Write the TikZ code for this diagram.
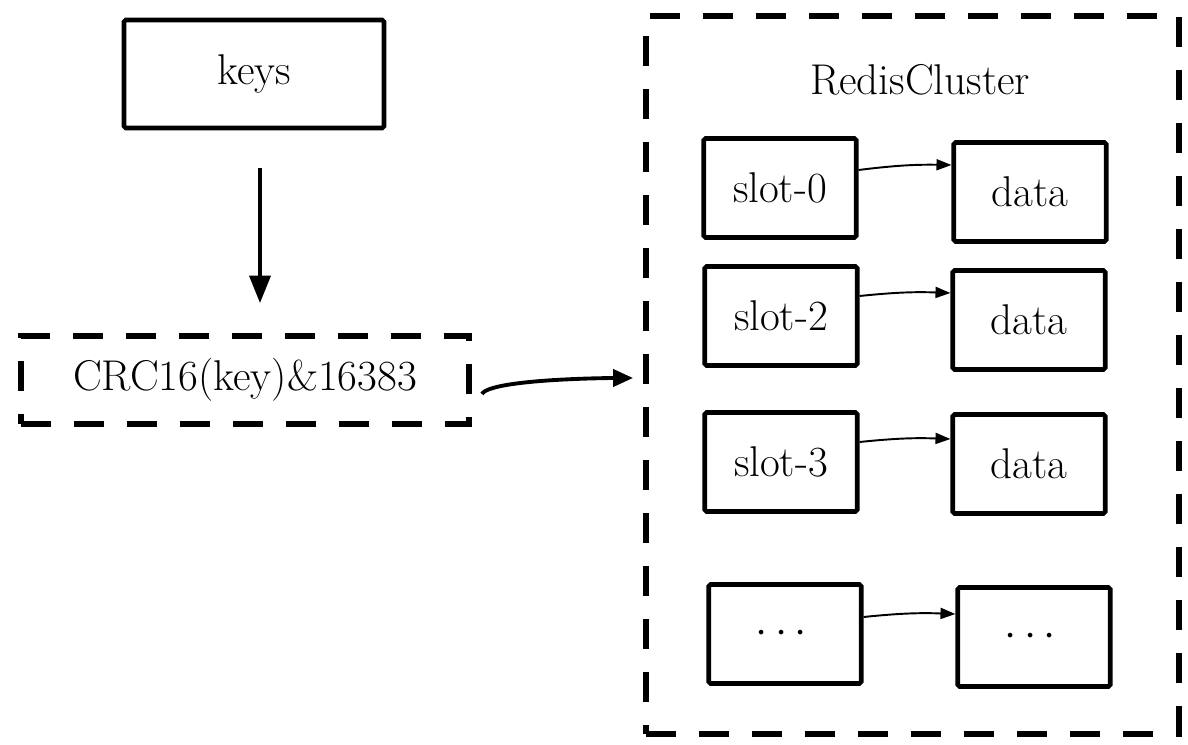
\documentclass[tikz,border=0pt]{standalone}
\usepackage{amsmath,amssymb}
\usetikzlibrary{arrows.meta}

\begin{document}
\begin{tikzpicture}[
  font=\fontsize{24.5}{29}\selectfont,
  box/.style={draw, line width=2.6pt, rounded corners=1pt, minimum width=3.05cm, minimum height=1.98cm, inner sep=0pt},
  dashbox/.style={draw, line width=3.6pt, dash pattern=on 0.6cm off 0.46cm, inner sep=0pt},
  bigarrow/.style={line width=2.2pt, -{Triangle[length=0.55cm,width=0.42cm]}},
  midarrow/.style={line width=2.2pt, -{Triangle[length=0.4cm,width=0.34cm]}},
  slotarrow/.style={line width=1.1pt, -{Triangle[length=0.3cm,width=0.22cm]}}
]
\useasboundingbox (0,0) rectangle (23.76,-14.9);

\node[box, minimum width=5.2cm, minimum height=2.16cm] (keys) at (5.08,-1.48) {keys};
\node[dashbox, minimum width=8.95cm, minimum height=1.75cm] (crc) at (4.9,-7.6) {CRC16(key)\&16383};
\node[dashbox, minimum width=10.65cm, minimum height=14.35cm] (cluster) at (18.25,-7.5) {};
\node (title) at (18.4,-1.6) {RedisCluster};

\node[box] (slot0) at (15.6,-3.76) {slot-0};
\node[box] (data0) at (20.6,-3.84) {data};
\node[box] (slot2) at (15.62,-6.32) {slot-2};
\node[box] (data2) at (20.58,-6.4) {data};
\node[box] (slot3) at (15.62,-9.24) {slot-3};
\node[box] (data3) at (20.58,-9.28) {data};
\node[box] (slotn) at (15.7,-12.68) {$\cdots$};
\node[box] (datan) at (20.68,-12.74) {$\cdots$};

\draw[bigarrow, shorten <=0.76cm, shorten >=0.6cm] ([xshift=0.12cm]keys.south) -- ([xshift=0.3cm]crc.north);
\draw[midarrow] ([shift={(0.2cm,-0.28cm)}]crc.east) to[out=60,in=180,looseness=0.3] ([xshift=-0.2cm,yshift=0.04cm]cluster.west |- crc.east);

\draw[slotarrow] ([yshift=0.36cm]slot0.east) to[bend left=4] ([yshift=0.54cm]data0.west);
\draw[slotarrow] ([yshift=0.4cm]slot2.east) to[bend left=4] ([yshift=0.54cm]data2.west);
\draw[slotarrow] ([yshift=0.4cm]slot3.east) to[bend left=4] ([yshift=0.5cm]data3.west);
\draw[slotarrow] ([yshift=0.34cm]slotn.east) to[bend left=4] ([yshift=0.46cm]datan.west);
\end{tikzpicture}
\end{document}
